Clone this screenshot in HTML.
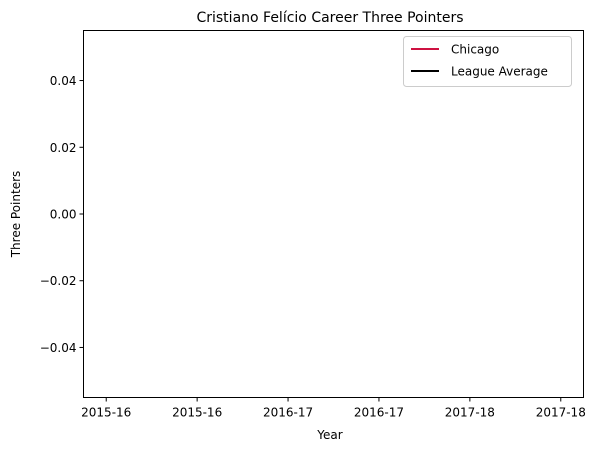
<!DOCTYPE html>
<html><head><meta charset="utf-8"><style>
body{margin:0;background:#fff;}
svg text{font-family:"DejaVu Sans","Liberation Sans",sans-serif;fill:#000;}
</style></head><body>
<svg id="chart" width="593" height="453" xmlns="http://www.w3.org/2000/svg">
<rect width="593" height="453" fill="#fff"/>
<text x="330" y="22" font-size="14" text-anchor="middle">Cristiano Felício Career Three Pointers</text>
<g id="yticks"></g><g id="xticks"></g><g id="series"></g>
<rect x="83.5" y="30.5" width="500" height="367" fill="none" stroke="#000" stroke-width="1"/>
<text x="330" y="439" font-size="12" text-anchor="middle">Year</text>
<text x="20" y="214" font-size="12" text-anchor="middle" transform="rotate(-90 20 214)">Three Pointers</text>
<g>
<rect x="403.5" y="36.5" width="168" height="50" rx="3" fill="#fff" stroke="#ccc"/>
<line x1="411" y1="49" x2="439" y2="49" stroke="#CE1141" stroke-width="2"/>
<text x="451" y="53.5" font-size="12">Chicago</text>
<line x1="411" y1="71" x2="439" y2="71" stroke="#000" stroke-width="2"/>
<text x="451" y="75.5" font-size="12">League Average</text>
</g>
</svg>
<script>
const categories = ["2015-16","2015-16","2016-17","2016-17","2017-18","2017-18"];
const yTicks = [0.04,0.02,0.00,-0.02,-0.04];
const yTickLabels = ["0.04","0.02","0.00","\u22120.02","\u22120.04"];
const chicagoValues = [null,null,null,null,null,null];
const leagueValues = [null,null,null,null,null,null];
const NS="http://www.w3.org/2000/svg";
const L=83.5,R=583.5,T=30.5,B=397.5;
function xs(i){return L+(i+0.25)*(R-L)/5.5;}
function ys(v){return T+(0.055-v)*(B-T)/0.11;}
const yg=document.getElementById('yticks');
yTicks.forEach((v,i)=>{
 const y=ys(v);
 const l=document.createElementNS(NS,'line');
 l.setAttribute('x1',L-4);l.setAttribute('x2',L);l.setAttribute('y1',y);l.setAttribute('y2',y);l.setAttribute('stroke','#000');
 
 
 yg.appendChild(l);
 const t=document.createElementNS(NS,'text');
 t.setAttribute('x',L-7);t.setAttribute('y',y+4.5);t.setAttribute('font-size','12');t.setAttribute('text-anchor','end');
 t.textContent=yTickLabels[i];
 
 
 yg.appendChild(t);
});
const xg=document.getElementById('xticks');
categories.forEach((c,i)=>{
 const x=xs(i);
 const l=document.createElementNS(NS,'line');
 l.setAttribute('x1',x);l.setAttribute('x2',x);l.setAttribute('y1',B);l.setAttribute('y2',B+4);l.setAttribute('stroke','#000');
 
 
 xg.appendChild(l);
 const t=document.createElementNS(NS,'text');
 t.setAttribute('x',x);t.setAttribute('y',B+19);t.setAttribute('font-size','12');t.setAttribute('text-anchor','middle');
 t.textContent=c;
 
 
 xg.appendChild(t);
});
const sg=document.getElementById('series');
function drawLine(vals,color,name){
 const pts=[];vals.forEach((v,i)=>{if(v!==null&&!isNaN(v))pts.push(xs(i)+','+ys(v));});
 const p=document.createElementNS(NS,'polyline');
 p.setAttribute('points',pts.join(' '));p.setAttribute('fill','none');p.setAttribute('stroke',color);p.setAttribute('stroke-width','2');
 
 
 sg.appendChild(p);
}
drawLine(chicagoValues,'#CE1141','chicago-line');
drawLine(leagueValues,'#000','league-average-line');
</script>
</body></html>
